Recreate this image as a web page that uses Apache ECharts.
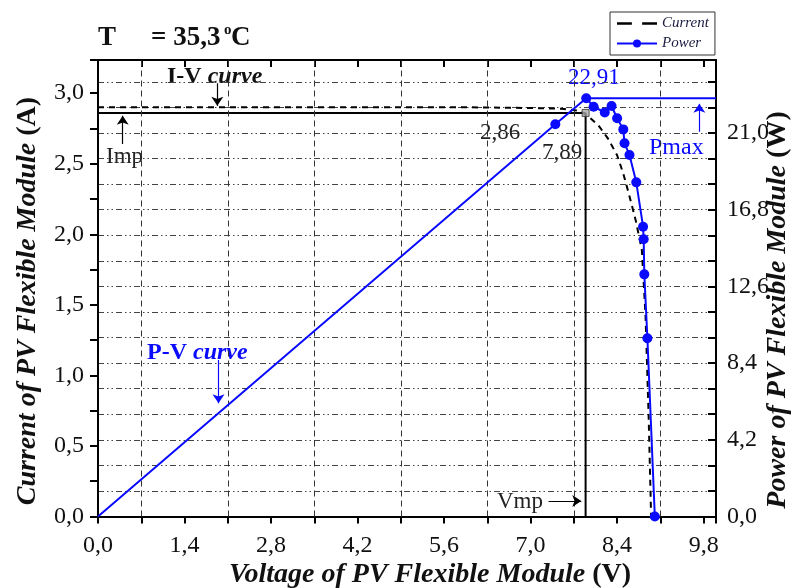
<!DOCTYPE html>
<html><head><meta charset="utf-8">
<script src="https://cdn.jsdelivr.net/npm/echarts@6/dist/echarts.min.js"></script>
<style>html,body{margin:0;padding:0;background:#fff}#c{width:794px;height:588px}</style>
</head><body><div id="c"></div>
<script>
// ---- data ----
const currentV = [0, 1, 2, 3, 4, 5, 6, 7, 7.5, 7.8, 7.95, 8.1, 8.25, 8.4, 8.5, 8.6, 8.7, 8.8, 8.86, 8.91, 8.95];
const currentI = [2.90, 2.90, 2.90, 2.90, 2.90, 2.90, 2.90, 2.895, 2.89, 2.875, 2.83, 2.77, 2.68, 2.56, 2.43, 2.27, 2.10, 1.89, 1.42, 0.71, 0.0];
const powerV = [0, 7.40, 7.90, 8.02, 8.20, 8.31, 8.40, 8.50, 8.52, 8.60, 8.71, 8.82, 8.83, 8.84, 8.89, 9.01];
const powerP = [0, 21.48, 22.91, 22.44, 22.13, 22.48, 21.81, 21.20, 20.44, 19.80, 18.30, 15.87, 15.18, 13.26, 9.76, 0];
const impValue = 2.86;
const vmpValue = 7.89;
const pmaxValue = 22.91;
const xLabelValues = [0, 1.4, 2.8, 4.2, 5.6, 7.0, 8.4, 9.8];
const leftLabelValues = [0, 0.5, 1.0, 1.5, 2.0, 2.5, 3.0];
const rightLabelValues = [0, 4.2, 8.4, 12.6, 16.8, 21.0];
const vGridValues = [0.7, 2.1, 3.5, 4.9, 6.3, 7.7, 9.1];

const FONT = '"Liberation Serif", "Times New Roman", serif';
const BLUE = '#0a0aff';
const zip = (a, b) => a.map((v, i) => [v, b[i]]);
const inList = (list, v) => list.some(x => Math.abs(x - v) < 1e-6);
const fmt = v => v.toFixed(1).replace('.', ',');

const chart = echarts.init(document.getElementById('c'));
const axisLineStyle = { color: '#000', width: 2 };
const titleRich = {
  n: { fontFamily: FONT, fontWeight: 'bold', fontSize: 28, fill: '#111' },
  i: { fontFamily: FONT, fontWeight: 'bold', fontStyle: 'italic', fontSize: 28, fill: '#111' }
};
const option = {
  animation: false,
  backgroundColor: '#fff',
  grid: { left: 98, right: 78, top: 60, bottom: 71.5, containLabel: false },
  legend: {
    data: [
      { name: 'Current', icon: 'path://M0,4 L13,4 L13,6 L0,6 Z M22,4 L35,4 L35,6 L22,6 Z', itemStyle: { color: '#000' } },
      { name: 'Power' }
    ],
    orient: 'vertical', left: 610, top: 12,
    itemWidth: 40, itemHeight: 10, itemGap: 5, padding: [4, 6, 4, 6],
    borderColor: '#333', borderWidth: 1,
    textStyle: { fontFamily: FONT, fontStyle: 'italic', fontSize: 15, color: '#1a1a40' }
  },
  xAxis: [{
    type: 'value', min: 0, max: 10, interval: 0.7, position: 'bottom',
    axisLine: { show: true, lineStyle: axisLineStyle, onZero: false },
    axisTick: { show: true, inside: false, length: 7, lineStyle: { color: '#000', width: 2 } },
    axisLabel: { show: true, margin: 17, fontFamily: FONT, fontSize: 24, color: '#111',
      formatter: v => inList(xLabelValues, v) ? fmt(v) : '' },
    splitLine: { show: false }
  }, {
    type: 'value', min: 0, max: 10, interval: 0.7, position: 'top',
    axisLine: { show: true, lineStyle: axisLineStyle, onZero: false },
    axisTick: { show: true, inside: true, length: 7, lineStyle: { color: '#000', width: 2 } },
    axisLabel: { show: false }, splitLine: { show: false }
  }],
  yAxis: [{
    type: 'value', min: 0, max: 3.235, interval: 0.25, position: 'left',
    axisLine: { show: true, lineStyle: axisLineStyle, onZero: false },
    axisTick: { show: true, inside: false, length: 8, lineStyle: { color: '#000', width: 2 } },
    axisLabel: { margin: 14, fontFamily: FONT, fontSize: 24, color: '#111',
      formatter: v => inList(leftLabelValues, v) ? fmt(v) : '' },
    splitLine: { show: false }
  }, {
    type: 'value', min: 0, max: 25, interval: 1.4, position: 'right',
    axisLine: { show: true, lineStyle: axisLineStyle, onZero: false },
    axisTick: { show: true, inside: true, length: 8, lineStyle: { color: '#000', width: 2 } },
    axisLabel: { margin: 11, fontFamily: FONT, fontSize: 24, color: '#111',
      formatter: v => inList(rightLabelValues, v) ? fmt(v) : '' },
    splitLine: { show: true, lineStyle: { color: '#444', width: 1, type: [6, 3, 1.5, 3, 1.5, 3] } }
  }],
  series: [
    {
      name: 'grid', type: 'line', data: [], xAxisIndex: 0, yAxisIndex: 0, z: 1, silent: true,
      markLine: {
        silent: true, symbol: 'none', label: { show: false }, animation: false,
        lineStyle: { color: '#333', width: 1, type: [6, 4] },
        data: vGridValues.map(v => ({ xAxis: v }))
      }
    },
    {
      name: 'Current', type: 'line', xAxisIndex: 0, yAxisIndex: 0, z: 3,
      data: zip(currentV, currentI), showSymbol: false, symbol: 'none',
      lineStyle: { color: '#000', width: 2, type: [6, 5] }, itemStyle: { color: '#000' }
    },
    {
      name: 'impvmp', type: 'line', xAxisIndex: 0, yAxisIndex: 0, z: 4,
      data: [[0, impValue], [vmpValue, impValue], [vmpValue, 0]], showSymbol: false, symbol: 'none',
      lineStyle: { color: '#000', width: 2 }
    },
    {
      name: 'pmaxline', type: 'line', xAxisIndex: 0, yAxisIndex: 1, z: 4,
      data: [[powerV[powerP.indexOf(pmaxValue)], pmaxValue], [10, pmaxValue]], showSymbol: false, symbol: 'none',
      lineStyle: { color: BLUE, width: 2 }
    },
    {
      name: 'Power', type: 'line', xAxisIndex: 0, yAxisIndex: 1, z: 5,
      data: zip(powerV, powerP).map((p, i) => i === 0 ? { value: p, symbol: 'none' } : p),
      symbol: 'circle', symbolSize: 10, showAllSymbol: true,
      lineStyle: { color: BLUE, width: 2 }, itemStyle: { color: BLUE }
    },
    {
      name: 'corner', type: 'scatter', xAxisIndex: 0, yAxisIndex: 0, z: 6,
      data: [[vmpValue, impValue]], symbol: 'rect', symbolSize: 7,
      itemStyle: { color: '#aaa', borderColor: '#333', borderWidth: 1 }
    },
    {
      name: 'arrowsBlack', type: 'line', data: [], xAxisIndex: 0, yAxisIndex: 0, z: 6,
      markLine: {
        silent: true, symbol: ['none', 'arrow'], symbolSize: 9, label: { show: false }, animation: false,
        lineStyle: { color: '#000', width: 1.2, type: 'solid' },
        data: [
          [{ coord: [1.93, 3.07] }, { coord: [1.93, 2.91] }],
          [{ coord: [0.40, 2.64] }, { coord: [0.40, 2.84] }],
          [{ coord: [7.29, 0.11] }, { coord: [7.82, 0.11] }]
        ]
      }
    },
    {
      name: 'arrowsBlue', type: 'line', data: [], xAxisIndex: 0, yAxisIndex: 1, z: 6,
      markLine: {
        silent: true, symbol: ['none', 'arrow'], symbolSize: 9, label: { show: false }, animation: false,
        lineStyle: { color: BLUE, width: 1.2, type: 'solid' },
        data: [
          [{ coord: [9.73, 21.07] }, { coord: [9.73, 22.6] }],
          [{ coord: [1.95, 8.57] }, { coord: [1.95, 6.2] }]
        ]
      }
    }
  ],
  graphic: [
    { type: 'text', x: 98, y: 38, style: { text: 'T', font: 'bold 27px ' + FONT, fill: '#111', align: 'left', verticalAlign: 'middle' } },
    { type: 'text', x: 151, y: 38, style: { text: '= 35,3', font: 'bold 27px ' + FONT, fill: '#111', align: 'left', verticalAlign: 'middle' } },
    { type: 'text', x: 224, y: 30, style: { text: 'o', font: 'bold 15px ' + FONT, fill: '#111', align: 'left', verticalAlign: 'middle' } },
    { type: 'text', x: 231, y: 38, style: { text: 'C', font: 'bold 27px ' + FONT, fill: '#111', align: 'left', verticalAlign: 'middle' } },
    { type: 'text', x: 167, y: 77, style: { text: '{n|I-V }{i|curve}', align: 'left', verticalAlign: 'middle', fill: '#111',
      rich: { n: { fontFamily: FONT, fontWeight: 'bold', fontSize: 24, fill: '#111' }, i: { fontFamily: FONT, fontWeight: 'bold', fontStyle: 'italic', fontSize: 24, fill: '#111' } } } },
    { type: 'text', x: 147, y: 353, style: { text: '{n|P-V }{i|curve}', align: 'left', verticalAlign: 'middle', fill: BLUE,
      rich: { n: { fontFamily: FONT, fontWeight: 'bold', fontSize: 24, fill: BLUE }, i: { fontFamily: FONT, fontWeight: 'bold', fontStyle: 'italic', fontSize: 24, fill: BLUE } } } },
    { type: 'text', x: 106, y: 157, style: { text: 'Imp', font: '23px ' + FONT, fill: '#222', align: 'left', verticalAlign: 'middle' } },
    { type: 'text', x: 480, y: 133, style: { text: '2,86', font: '23px ' + FONT, fill: '#222', align: 'left', verticalAlign: 'middle' } },
    { type: 'text', x: 542, y: 153, style: { text: '7,89', font: '23px ' + FONT, fill: '#222', align: 'left', verticalAlign: 'middle' } },
    { type: 'text', x: 568, y: 78, style: { text: '22,91', font: '23px ' + FONT, fill: BLUE, align: 'left', verticalAlign: 'middle' } },
    { type: 'text', x: 649, y: 148, style: { text: 'Pmax', font: '24px ' + FONT, fill: BLUE, align: 'left', verticalAlign: 'middle' } },
    { type: 'text', x: 497, y: 502, style: { text: 'Vmp', font: '23px ' + FONT, fill: '#222', align: 'left', verticalAlign: 'middle' } },
    { type: 'text', x: 430, y: 575, style: { text: '{i|Voltage of PV Flexible Module }{n|(V)}', align: 'center', verticalAlign: 'middle', rich: titleRich } },
    { type: 'text', x: 28, y: 301, rotation: Math.PI / 2, style: { text: '{i|Current of PV Flexible Module }{n|(A)}', align: 'center', verticalAlign: 'middle', rich: titleRich } },
    { type: 'text', x: 778, y: 310, rotation: Math.PI / 2, style: { text: '{i|Power of PV Flexible Module }{n|(W)}', align: 'center', verticalAlign: 'middle', rich: titleRich } }
  ]
};
chart.setOption(option);
</script>
</body></html>
